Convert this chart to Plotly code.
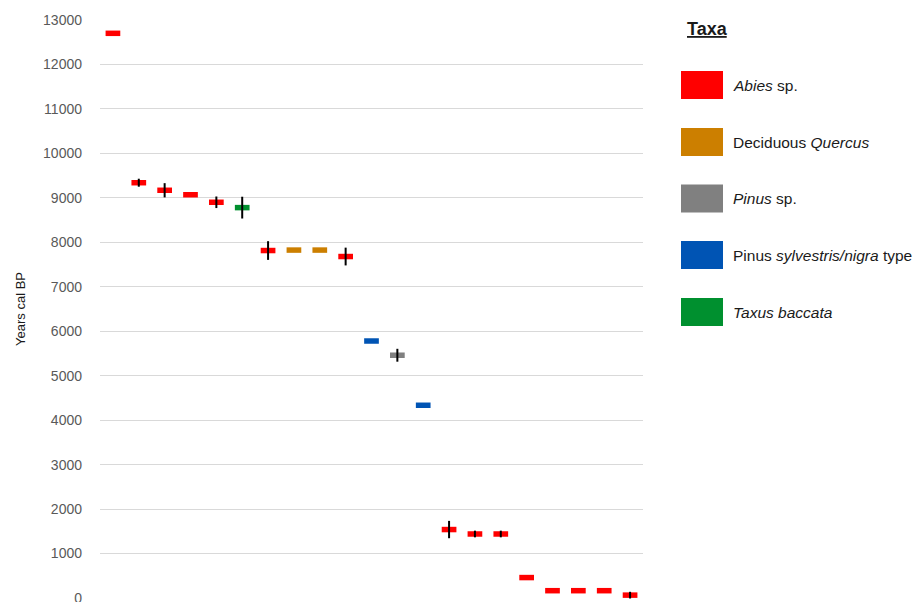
import plotly.graph_objects as go

# Radiocarbon-dated charcoal samples, ordered by age
sample_ids = list(range(1, 22))
ages_cal_bp = [12700, 9340, 9170, 9070, 8900, 8780, 7815, 7825, 7825, 7680,
               5780, 5460, 4335, 1540, 1440, 1440, 460, 165, 165, 165, 65]
age_errors = [0, 90, 160, 0, 130, 245, 210, 0, 0, 200,
              0, 145, 0, 195, 75, 75, 0, 0, 0, 0, 75]
sample_taxa = ["Abies", "Abies", "Abies", "Abies", "Abies", "Taxus", "Abies",
               "Quercus", "Quercus", "Abies", "PinusSN", "Pinus", "PinusSN",
               "Abies", "Abies", "Abies", "Abies", "Abies", "Abies", "Abies", "Abies"]

taxa_keys = ["Abies", "Quercus", "Pinus", "PinusSN", "Taxus"]
taxa_labels = ["<i>Abies</i> sp.", "Deciduous <i>Quercus</i>", "<i>Pinus</i> sp.",
               "Pinus <i>sylvestris/nigra</i> type", "<i>Taxus baccata</i>"]
taxa_colors = ["#ff0000", "#cc7f00", "#808080", "#0054b4", "#00902f"]

y_ticks = list(range(0, 14000, 1000))
y_tick_text = [str(v) for v in y_ticks]

fig = go.Figure()

# Coloured dash for each sample, grouped by taxon
for key, label, color in zip(taxa_keys, taxa_labels, taxa_colors):
    xs = [i for i, t in enumerate(sample_taxa) if t == key]
    ys = [ages_cal_bp[i] for i in xs]
    fig.add_trace(go.Scatter(
        x=xs, y=ys, mode="markers", name=label, showlegend=False,
        marker=dict(symbol="line-ew", size=10.5, color=color,
                    line=dict(width=5.5, color=color)),
        hoverinfo="y",
    ))

# Calibration ranges drawn on top of the dashes
fig.add_trace(go.Scatter(
    x=list(range(len(sample_ids))), y=ages_cal_bp, mode="markers",
    marker=dict(size=1, opacity=0), showlegend=False, hoverinfo="skip",
    error_y=dict(type="data", array=age_errors, color="black",
                 thickness=2, width=0),
))

# Plot-area geometry (pixels) used to place the legend block
L, R, T, B = 100, 643, 19, 599
W, H = R - L, B - T


def px(x):
    return (x - L) / W


def py(y):
    return (B - y) / H


shapes = []
annotations = [dict(
    text="<b><u>Taxa</u></b>", x=px(707.5), y=py(29), xref="paper", yref="paper",
    showarrow=False, xanchor="center", yanchor="middle",
    font=dict(family="Liberation Sans, Arial", size=18, color="#1a1a1a"),
)]
row_centers = [85, 142, 198.5, 255, 312]
for yc, label, color in zip(row_centers, taxa_labels, taxa_colors):
    shapes.append(dict(
        type="rect", xref="paper", yref="paper",
        x0=px(681), x1=px(723), y0=py(yc + 14), y1=py(yc - 14),
        fillcolor=color, line=dict(width=0), layer="above",
    ))
    annotations.append(dict(
        text=label, x=px(731), y=py(yc), xref="paper", yref="paper",
        showarrow=False, xanchor="left", yanchor="middle",
        font=dict(family="Liberation Sans, Arial", size=15.5, color="#1a1a1a"),
    ))

fig.update_layout(
    width=916, height=602,
    margin=dict(l=L, r=916 - R, t=T, b=602 - B, pad=0, autoexpand=False),
    paper_bgcolor="white", plot_bgcolor="white",
    showlegend=False,
    xaxis=dict(range=[-0.5, len(sample_ids) - 0.5], showgrid=False,
               zeroline=False, showticklabels=False, showline=False,
               ticks="", automargin=False),
    yaxis=dict(range=[-22, 13022], tickvals=y_ticks, ticktext=y_tick_text,
               showgrid=True, gridcolor="#d9d9d9", gridwidth=1.2,
               zeroline=False, showline=False, ticks="", automargin=False,
               ticklabelstandoff=17, ticklabeloverflow="allow",
               tickfont=dict(family="Liberation Sans, Arial", size=14,
                             color="#595959"),
               title=dict(text="Years cal BP", standoff=14,
                          font=dict(family="Liberation Sans, Arial", size=13,
                                    color="#1a1a1a"))),
    shapes=shapes,
    annotations=annotations,
)

fig.write_html("out.html")
